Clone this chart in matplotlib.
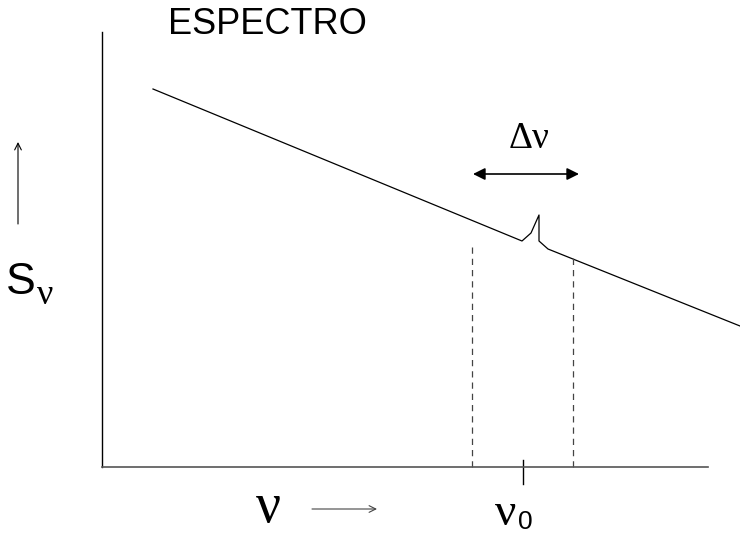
import matplotlib.pyplot as plt

# spectrum sketch: continuum with a narrow line at nu0 (axis units)
spec_x = [51, 420, 429, 437, 437, 446, 638]
spec_y = [378, 226, 234, 252, 226, 218, 141]

# band limits (dashed) and line centre
band_x = [370, 471]
band_top = [224, 209]
nu0_x = 421
delta_y = 293

fig = plt.figure(figsize=(7.4, 5.35), dpi=100)

# main axes, placed where the drawn axes sit in the picture
ax = fig.add_axes([102 / 740, (535 - 467) / 535, 606 / 740, 435 / 535])
ax.set_xlim(0, 606)
ax.set_ylim(0, 435)
ax.set_xticks([])
ax.set_yticks([])
for s in ["top", "right"]:
    ax.spines[s].set_visible(False)
ax.spines["left"].set_linewidth(1.0)
ax.spines["left"].set_color("black")
ax.spines["bottom"].set_linewidth(1.2)
ax.spines["bottom"].set_color("#555555")

ax.plot(spec_x, spec_y, color="black", linewidth=0.9, clip_on=False)

for bx, by in zip(band_x, band_top):
    ax.plot([bx, bx], [0, by], color="#444444", linewidth=0.9,
            linestyle=(0, (5, 4)), clip_on=False)

ax.plot([nu0_x, nu0_x], [-17, 7], color="black", linewidth=1.0, clip_on=False)

ax.annotate("", xy=(band_x[0] + 1, delta_y), xytext=(band_x[1] + 6, delta_y),
            arrowprops=dict(arrowstyle="<|-|>", color="black", lw=1.2,
                            mutation_scale=18, shrinkA=0, shrinkB=0),
            annotation_clip=False)

# overlay in pixel coordinates for the labels
ov = fig.add_axes([0, 0, 1, 1])
ov.set_xlim(0, 740)
ov.set_ylim(535, 0)
ov.axis("off")
ov.patch.set_alpha(0)

sans = "Liberation Sans"
serif = "Liberation Serif"

ov.text(267, 25, "ESPECTRO", family=sans, fontsize=26, ha="center", va="center")

# y label
ov.annotate("", xy=(18, 142), xytext=(18, 224),
            arrowprops=dict(arrowstyle="->", color="black", lw=0.8,
                            mutation_scale=12, shrinkA=0, shrinkB=0))
ov.text(21, 283, "S", family=sans, fontsize=32, ha="center", va="center")
ov.text(45, 296, "ν", family=serif, fontsize=26, ha="center", va="center")

# x label
ov.text(268, 508, "ν", family=serif, fontsize=40, ha="center", va="center")
ov.annotate("", xy=(377, 509), xytext=(312, 509),
            arrowprops=dict(arrowstyle="->", color="#444444", lw=0.8,
                            mutation_scale=12, shrinkA=0, shrinkB=0))

# nu0 label
ov.text(506, 514, "ν", family=serif, fontsize=34, ha="center", va="center")
ov.text(525, 522, "0", family=sans, fontsize=19, ha="center", va="center")

# delta nu
ov.text(529, 139, "Δν", family=serif, fontsize=27, ha="center", va="center")

fig.savefig("out.png", dpi=100)
